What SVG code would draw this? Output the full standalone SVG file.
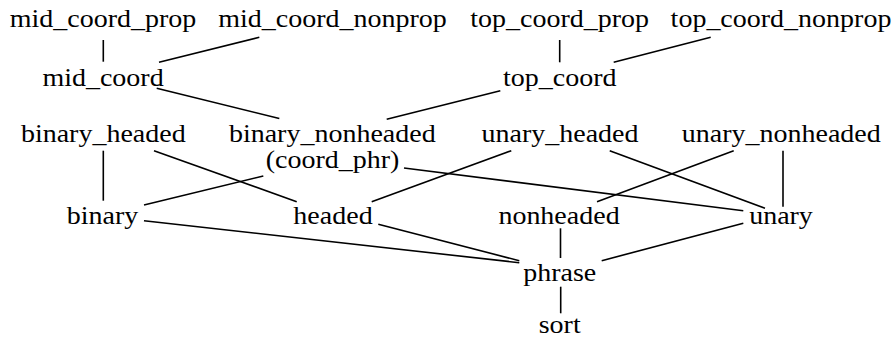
<svg xmlns="http://www.w3.org/2000/svg" width="893" height="338" viewBox="0 0 893 338">
<style>
text{font-family:'Liberation Serif','Times New Roman',serif;font-size:25px;fill:#000;text-anchor:middle}
.e line{stroke:#000;stroke-width:1.6;stroke-linecap:butt}
</style>
<rect width="893" height="338" fill="#fff"/>
<g class="e" id="connectors">
<line x1="103.3" y1="40" x2="103.3" y2="61.7"/>
<line x1="259.3" y1="37.3" x2="159" y2="62.3"/>
<line x1="156.7" y1="88.3" x2="279.3" y2="118.5"/>
<line x1="500.3" y1="90.7" x2="386.7" y2="119.3"/>
<line x1="559.7" y1="40" x2="559.7" y2="62.3"/>
<line x1="710.7" y1="37.3" x2="613.7" y2="62.3"/>
<line x1="103.3" y1="150.7" x2="103.3" y2="200.7"/>
<line x1="154" y1="150.7" x2="296.7" y2="201.7"/>
<line x1="263.3" y1="176" x2="144" y2="205"/>
<line x1="404" y1="168" x2="743.3" y2="210.7"/>
<line x1="511.3" y1="150.7" x2="371.7" y2="201.7"/>
<line x1="609.7" y1="150.7" x2="765" y2="208.3"/>
<line x1="733.7" y1="150.7" x2="597" y2="201.7"/>
<line x1="783" y1="150.7" x2="783" y2="206.7"/>
<line x1="144" y1="220.7" x2="519.3" y2="262.7"/>
<line x1="378.3" y1="224.3" x2="519.3" y2="260.7"/>
<line x1="560.5" y1="228.3" x2="560.5" y2="258"/>
<line x1="743.3" y1="223.3" x2="601.7" y2="260.7"/>
<line x1="560.7" y1="286.7" x2="560.7" y2="313.3"/>
</g>
<g id="mid_coord_prop"><text transform="translate(103,27) scale(1.12,1)">mid_coord_prop</text></g>
<g id="mid_coord_nonprop"><text transform="translate(332.5,27) scale(1.12,1)">mid_coord_nonprop</text></g>
<g id="top_coord_prop"><text transform="translate(559.7,27) scale(1.12,1)">top_coord_prop</text></g>
<g id="top_coord_nonprop"><text transform="translate(781,27) scale(1.12,1)">top_coord_nonprop</text></g>
<g id="mid_coord"><text transform="translate(103,86) scale(1.12,1)">mid_coord</text></g>
<g id="top_coord"><text transform="translate(559.7,86) scale(1.12,1)">top_coord</text></g>
<g id="binary_headed"><text transform="translate(103.3,141.7) scale(1.12,1)">binary_headed</text></g>
<g id="binary_nonheaded"><text transform="translate(332.3,141.7) scale(1.12,1)">binary_nonheaded</text><text transform="translate(332.5,167.7) scale(1.12,1)">(coord_phr)</text></g>
<g id="unary_headed"><text transform="translate(560,141.7) scale(1.12,1)">unary_headed</text></g>
<g id="unary_nonheaded"><text transform="translate(781.3,141.7) scale(1.12,1)">unary_nonheaded</text></g>
<g id="binary"><text transform="translate(102.5,224.3) scale(1.12,1)">binary</text></g>
<g id="headed"><text transform="translate(333,224.3) scale(1.12,1)">headed</text></g>
<g id="nonheaded"><text transform="translate(559,224.3) scale(1.12,1)">nonheaded</text></g>
<g id="unary"><text transform="translate(781,224.3) scale(1.12,1)">unary</text></g>
<g id="phrase"><text transform="translate(559.7,280.7) scale(1.12,1)">phrase</text></g>
<g id="sort"><text transform="translate(559.7,333) scale(1.12,1)">sort</text></g>
</svg>
